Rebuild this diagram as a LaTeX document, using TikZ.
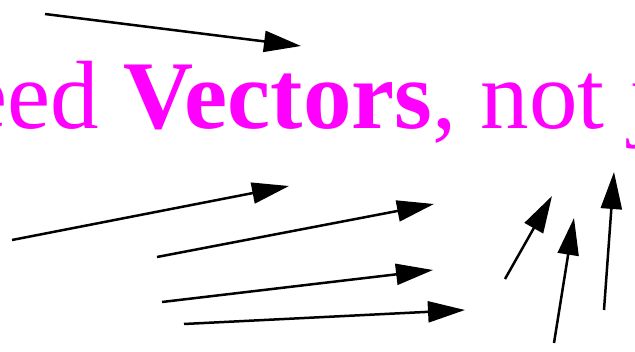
\documentclass[tikz,border=0pt]{standalone}
\usepackage{fontspec}
\setmainfont{Liberation Serif}
\usetikzlibrary{arrows.meta}
\definecolor{headline}{HTML}{FF00FF}
\tikzset{
  vec/.style={line width=2.5pt, -{Triangle[length=37pt,width=21pt]}},
  title/.style={anchor=base west, inner sep=0pt, text=headline, font=\fontsize{97}{100}\selectfont}
}
\begin{document}
\begin{tikzpicture}[x=1pt,y=-1pt]
\useasboundingbox (0,0) rectangle (635,352);
\begin{scope}
\clip (0,0) rectangle (635,352);
\node[title] (t) at (-105.5,129) {Need \textbf{Vectors}, not just};
\coordinate (a1) at (45,14);   \coordinate (b1) at (301,46);
\coordinate (a2) at (12,240);  \coordinate (b2) at (289,186);
\coordinate (a3) at (157,257); \coordinate (b3) at (434,204);
\coordinate (a4) at (162,302); \coordinate (b4) at (433,270);
\coordinate (a5) at (184,324); \coordinate (b5) at (465,310);
\coordinate (a6) at (505,279); \coordinate (b6) at (552,196);
\coordinate (a7) at (554,343); \coordinate (b7) at (574,218);
\coordinate (a8) at (604,310); \coordinate (b8) at (614,172);
\foreach \i in {1,...,8} { \draw[vec] (a\i) -- (b\i); }
\end{scope}
\end{tikzpicture}
\end{document}
